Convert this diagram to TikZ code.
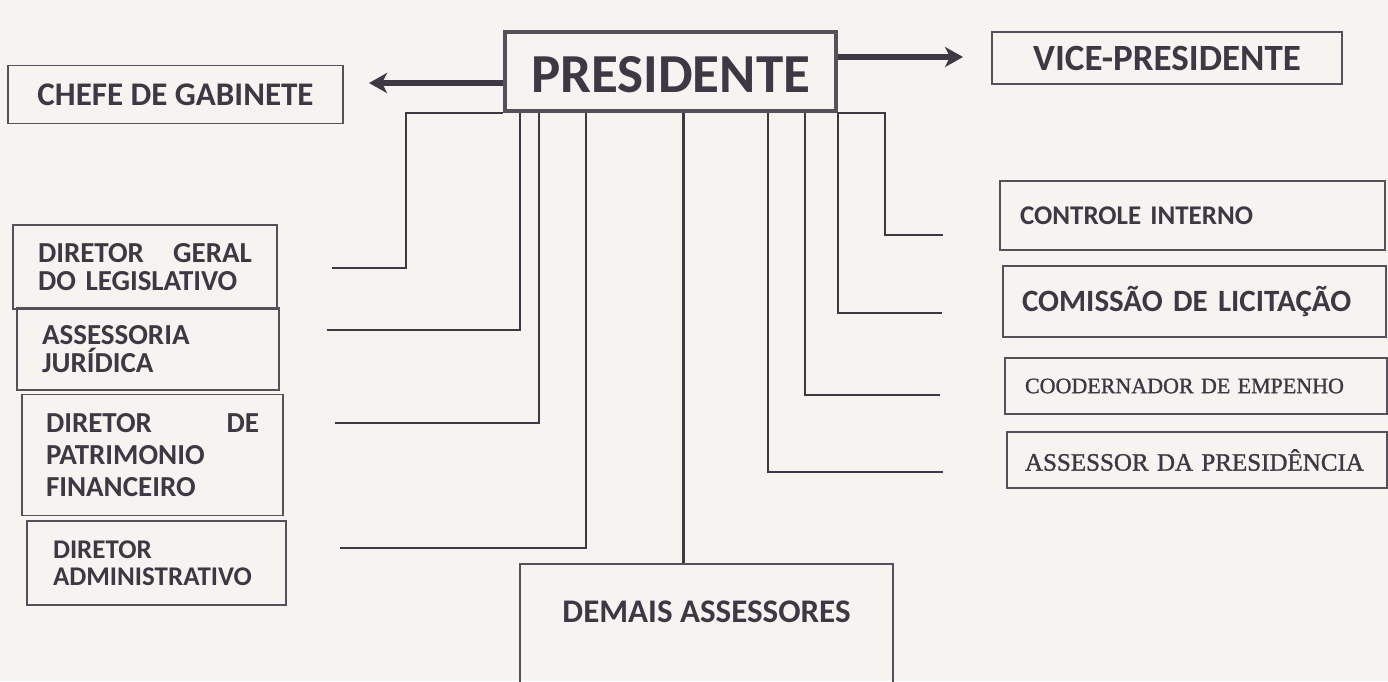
\documentclass[tikz,border=0pt]{standalone}
\usepackage{fontspec}
\setmainfont{Carlito}
\newfontfamily\timesface[FakeBold=1.2]{Liberation Serif}
\usetikzlibrary{arrows.meta}
\definecolor{paper}{RGB}{245,244,241}
\definecolor{ink}{RGB}{62,56,68}
\definecolor{frame}{RGB}{85,80,90}

\begin{document}
\begin{tikzpicture}[x=1pt, y=-1pt,
  box/.style={draw=frame, line width=1.8pt, inner sep=0pt, text=ink, font=\bfseries},
  leftbox/.style={box, align=left},
  conn/.style={draw=ink, line width=2.4pt},
  bigarrow/.style={draw=ink, line width=6pt, -{Stealth[length=18pt,width=20pt,inset=5pt]}}]
\clip (0,0) rectangle (1388,681);
\fill[paper] (0,0) rectangle (1388,681);

% top row
\node[box, line width=4pt, minimum width=331pt, minimum height=79pt, text height=41pt, text depth=0pt, font=\bfseries\fontsize{55}{60}\selectfont] (pres) at (670.5,71.5) {PRESIDENTE};
\node[box, minimum width=335pt, minimum height=58pt, font=\bfseries\fontsize{33}{36}\selectfont] (chefe) at (175.5,94.5) {CHEFE DE GABINETE};
\node[box, minimum width=350pt, minimum height=52pt, font=\bfseries\fontsize{37}{40}\selectfont] (vice) at (1167,58) {VICE-PRESIDENTE};

% left column
\node[leftbox, minimum width=264pt, minimum height=84pt, text width=214pt, font=\bfseries\fontsize{29}{28}\selectfont] (dirgeral) at (145,267) {DIRETOR\hfill GERAL\\DO LEGISLATIVO};
\node[leftbox, minimum width=262pt, minimum height=82pt, text width=212pt, font=\bfseries\fontsize{29}{28}\selectfont] (assjur) at (148,349) {ASSESSORIA\\JURÍDICA};
\node[leftbox, minimum width=261pt, minimum height=121pt, text width=213pt, font=\bfseries\fontsize{29}{32}\selectfont] (dirpat) at (152.5,455) {DIRETOR\hfill DE\\PATRIMONIO\\FINANCEIRO};
\node[leftbox, minimum width=259pt, minimum height=84pt, text width=207pt, font=\bfseries\fontsize{27}{27}\selectfont] (diradm) at (156.5,563) {DIRETOR\\ADMINISTRATIVO};

% right column
\node[leftbox, minimum width=385pt, minimum height=69pt, text width=345pt, font=\bfseries\fontsize{27}{30}\selectfont] (contint) at (1192.5,215.5) {CONTROLE INTERNO};
\node[leftbox, minimum width=383pt, minimum height=71pt, text width=345pt, font=\bfseries\fontsize{31}{34}\selectfont] (comlic) at (1194.5,301.5) {COMISSÃO DE LICITAÇÃO};
\node[leftbox, minimum width=382pt, minimum height=56pt, text width=342pt, font=\timesface\fontsize{22}{24}\selectfont] (coemp) at (1196,386) {COODERNADOR DE EMPENHO};
\node[leftbox, minimum width=380pt, minimum height=56pt, text width=344pt, font=\timesface\fontsize{25}{28}\selectfont] (asspres) at (1197,460) {ASSESSOR DA PRESIDÊNCIA};

% bottom
\node[box, anchor=north, minimum width=373pt, text height=59pt, text depth=90pt, font=\bfseries\fontsize{33}{36}\selectfont] (demais) at (706.5,563) {DEMAIS ASSESSORES};

\coordinate (chefetip) at (369,83);
\coordinate (vicetip) at (963,57);
\coordinate (dgtip) at (332,268);
\coordinate (ajtip) at (327,330);
\coordinate (dptip) at (335,423);
\coordinate (datip) at (340,548);
\coordinate (citip) at (943,235);
\coordinate (cltip) at (942,313);
\coordinate (cetip) at (940,395);
\coordinate (aptip) at (943,472);

\draw[bigarrow] (pres.west |- chefetip) -- (chefetip);
\draw[bigarrow] (pres.east |- vicetip) -- (vicetip);

\draw[conn] (pres.south west) -- ++(-97,0) |- (dgtip);
\draw[conn] ([xshift=17pt]pres.south west) |- (ajtip);
\draw[conn] ([xshift=36pt]pres.south west) |- (dptip);
\draw[conn] ([xshift=83pt]pres.south west) |- (datip);
\draw[conn] ([xshift=-23pt]demais.north |- pres.south) -- ([xshift=-23pt]demais.north);
\draw[conn] ([xshift=-70pt]pres.south east) |- (aptip);
\draw[conn] ([xshift=-33pt]pres.south east) |- (cetip);
\draw[conn] (pres.south east) |- (cltip);
\draw[conn] (pres.south east) -- ++(47,0) |- (citip);
\end{tikzpicture}
\end{document}
